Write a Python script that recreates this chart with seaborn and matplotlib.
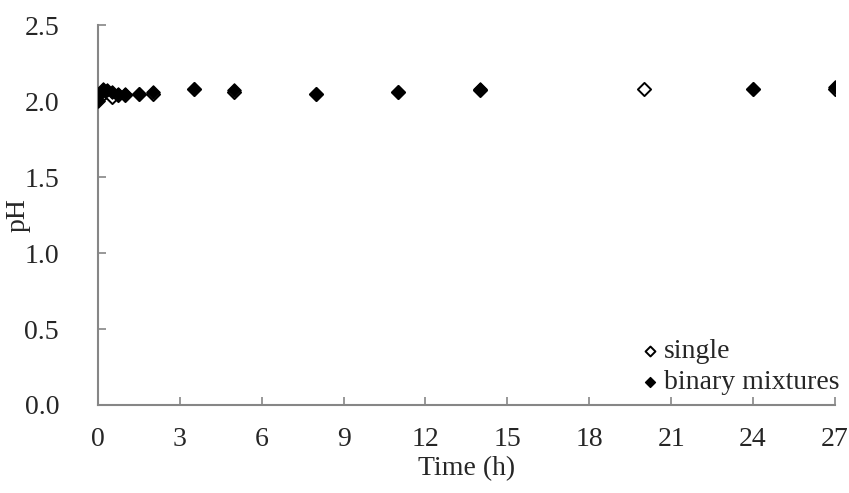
import numpy as np
import pandas as pd
import matplotlib
matplotlib.use("Agg")
import matplotlib.pyplot as plt
import seaborn as sns

# data
time_single = [0, 0.17, 0.33, 0.5, 0.75, 1, 1.5, 2, 3.5, 5, 8, 11, 14, 20, 24, 27]
ph_single = [2.03, 2.05, 2.06, 2.03, 2.04, 2.04, 2.05, 2.05, 2.08, 2.06, 2.05, 2.06, 2.07, 2.08, 2.08, 2.08]

time_binary = [0, 0.08, 0.17, 0.33, 0.5, 0.75, 1, 1.5, 2, 3.5, 5, 8, 11, 14, 24, 27]
ph_binary = [2.00, 2.05, 2.08, 2.07, 2.06, 2.05, 2.05, 2.05, 2.06, 2.08, 2.07, 2.05, 2.06, 2.08, 2.08, 2.09]

x_ticks = [0, 3, 6, 9, 12, 15, 18, 21, 24, 27]
y_ticks = [0.0, 0.5, 1.0, 1.5, 2.0, 2.5]

sns.set_style("white")
plt.rcParams['font.family'] = ['Liberation Serif', 'DejaVu Serif']

fig = plt.figure(figsize=(8.49, 4.93), dpi=100)
ax = fig.add_axes([0.1154, 0.1785, 0.868, 0.7705])

sns.scatterplot(x=time_single, y=ph_single, ax=ax, marker='D', s=45,
                facecolor='white', edgecolor='black', linewidth=1.4, label='single', zorder=3)
sns.scatterplot(x=time_binary, y=ph_binary, ax=ax, marker='D', s=45,
                color='black', edgecolor='black', linewidth=1.0, label='binary mixtures', zorder=4)

ax.set_xlim(0, 27)
ax.set_ylim(0, 2.5)
ax.set_xticks(x_ticks)
ax.set_yticks(y_ticks)
ax.set_yticklabels([f"{v:.1f}" for v in y_ticks])
ax.tick_params(axis='both', direction='in', length=6, width=1.2, color='#868686',
               labelsize=20, left=True, bottom=True)
ax.tick_params(axis='y', pad=28)
ax.tick_params(axis='x', pad=16)
ax.set_xlabel('Time (h)', fontsize=20, labelpad=3)
ax.set_ylabel('pH', fontsize=20)
ax.yaxis.set_label_coords(-0.092, 0.5)

for side in ['top', 'right']:
    ax.spines[side].set_visible(False)
for side in ['left', 'bottom']:
    ax.spines[side].set_color('#868686')
    ax.spines[side].set_linewidth(1.5)

ax.legend(loc='lower right', bbox_to_anchor=(1.04, -0.04), frameon=False, fontsize=20,
          handletextpad=-0.5, labelspacing=0.2, markerscale=0.75)

fig.savefig('out.png', dpi=100)
